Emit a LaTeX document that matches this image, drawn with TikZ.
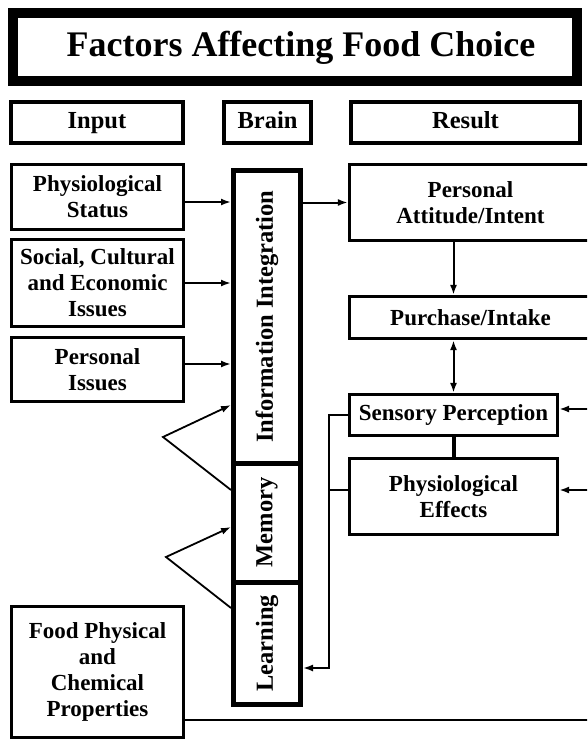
\documentclass[tikz,border=0pt]{standalone}
\usepackage{fontspec}
\usepackage{graphicx}
\setmainfont{Liberation Serif}
\usetikzlibrary{arrows.meta}
\begin{document}
\begin{tikzpicture}[x=1pt,y=-1pt,
  titlebox/.style={draw, line width=10pt, inner sep=0pt},
  titletxt/.style={inner sep=0pt, font=\fontsize{36}{40}\selectfont\bfseries},
  hdr/.style={draw, line width=4.5pt, inner sep=0pt, minimum height=41pt, text height=17pt, text depth=5pt, font=\fontsize{24.5}{28}\selectfont\bfseries},
  inbox/.style={draw, line width=2.8pt, inner sep=0pt, align=center, minimum width=172pt, font=\fontsize{23}{26}\selectfont\bfseries},
  colbox/.style={draw, line width=5pt, inner sep=0pt, minimum width=67pt, font=\fontsize{24.5}{28}\selectfont\bfseries},
  rbox/.style={draw, line width=3.2pt, inner sep=0pt, align=center, font=\fontsize{23}{26}\selectfont\bfseries},
  tip/.tip={Latex[length=10pt,width=7pt]},
  arr/.style={line width=2pt, -tip},
  plain/.style={line width=2pt},
]
\useasboundingbox (0,0) rectangle (587,742);
\fill[white] (0,0) rectangle (587,742);
\clip (0,0) rectangle (587,742);

% title and headers
\node[titlebox, minimum width=564pt, minimum height=68pt] (title) at (295,47) {};
\node[titletxt, text height=26pt, text depth=8pt] (titletext) at (301,47) {Factors Affecting Food Choice};
\node[hdr, minimum width=172pt] (input) at (97,122.5) {Input};
\node[hdr, minimum width=87pt] (brain) at (267.5,122.5) {Brain};
\node[hdr, minimum width=229pt] (result) at (465.5,122.5) {Result};

% inputs
\node[inbox, minimum height=65pt] (phys) at (97.5,197) {Physiological\\Status};
\node[inbox, minimum height=87pt] (soc) at (97.5,283) {Social, Cultural\\and Economic\\Issues};
\node[inbox, minimum height=64pt] (pers) at (97.5,369.5) {Personal\\Issues};
\node[inbox, minimum height=131pt] (food) at (97.5,672) {Food Physical\\and\\Chemical\\Properties};

% brain column
\node[colbox, minimum height=292.5pt] (info) at (267,316.75) {\rotatebox{90}{Information Integration}};
\node[colbox, minimum height=119pt] (mem) at (267,522.5) {\rotatebox{90}{Memory}};
\node[colbox, minimum height=122.5pt] (learn) at (267,643.25) {\rotatebox{90}{Learning}};

% results
\node[rbox, minimum width=242pt, minimum height=76pt] (att) at (470.5,202.5) {Personal\\Attitude/Intent};
\node[rbox, minimum width=242pt, minimum height=42pt] (pur) at (470.5,317.5) {Purchase/Intake};
\node[rbox, minimum width=208pt, minimum height=41pt] (sen) at (453.5,415) {Sensory Perception};
\node[rbox, minimum width=208pt, minimum height=76pt] (pe) at (453.5,496.5) {Physiological\\Effects};

% inputs to brain
\draw[arr] ([yshift=-5pt]phys.east) -- ([yshift=-5pt]phys.east -| info.west);
\draw[arr] (soc.east) -- (soc.east -| info.west);
\draw[arr] ([yshift=5.5pt]pers.east) -- ([yshift=5.5pt]pers.east -| info.west);

% memory / learning loops
\coordinate (v1) at (163,437);
\coordinate (v1t) at (231,405);
\coordinate (v1b) at (231,490);
\coordinate (v2) at (166,557);
\coordinate (v2t) at (231,527);
\coordinate (v2b) at (231,608);
\draw[arr, line width=1.8pt] (v1b) -- (v1) -- (v1t);
\draw[arr, line width=1.8pt] (v2b) -- (v2) -- (v2t);

% brain to results
\draw[arr] (info.east |- att.west) -- (att.west);
\draw[arr] (att.south -| sen.north) -- (pur.north -| sen.north);
\draw[line width=2pt, tip-tip] (pur.south -| sen.north) -- (sen.north);
\draw[line width=4pt] (sen.south) -- (pe.north);

% feedback to learning
\coordinate (fbx) at (329,668);
\draw[arr, line width=1.8pt] (sen.west) -| (fbx) -- (fbx -| learn.east);
\draw[line width=1.8pt] ([yshift=6.5pt]pe.west) -- ([yshift=6.5pt]pe.west -| fbx);

% food properties loop
\coordinate (re) at (594,720);
\draw[plain, line width=2.4pt] ([yshift=-48pt]food.east) -- (re) -- ([yshift=6pt]sen.east -| re);
\draw[arr] ([yshift=6pt]sen.east -| re) -- ([yshift=6pt]sen.east);
\draw[arr] ([yshift=6.5pt]pe.east -| re) -- ([yshift=6.5pt]pe.east);
\end{tikzpicture}
\end{document}
